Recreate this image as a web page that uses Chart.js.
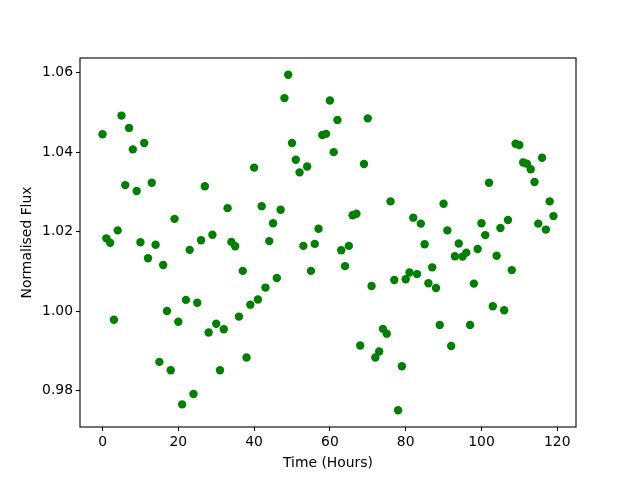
<!DOCTYPE html>
<html>
<head>
<meta charset="utf-8">
<script src="https://cdn.jsdelivr.net/npm/chart.js@4/dist/chart.umd.min.js"></script>
<style>
html,body{margin:0;padding:0;background:#fff;}
#wrap{width:640px;height:480px;position:relative;}
</style>
</head>
<body>
<div id="wrap"><canvas id="c" width="640" height="480"></canvas></div>
<script>
const hours = [0,1,2,3,4,5,6,7,8,9,10,11,12,13,14,15,16,17,18,19,
20,21,22,23,24,25,26,27,28,29,30,31,32,33,34,35,36,37,38,39,
40,41,42,43,44,45,46,47,48,49,50,51,52,53,54,55,56,57,58,59,
60,61,62,63,64,65,66,67,68,69,70,71,72,73,74,75,76,77,78,79,
80,81,82,83,84,85,86,87,88,89,90,91,92,93,94,95,96,97,98,99,
100,101,102,103,104,105,106,107,108,109,110,111,112,113,114,115,116,117,118,119];

const flux = [
1.0445,1.0183,1.0172,0.9978,1.0203,1.0492,1.0317,1.0461,1.0407,1.0302,
1.0173,1.0423,1.0133,1.0323,1.0167,0.9872,1.0116,1.0000,0.9851,1.0232,
0.9973,0.9765,1.0028,1.0154,0.9791,1.0021,1.0178,1.0314,0.9946,1.0192,
0.9968,0.9851,0.9954,1.0259,1.0174,1.0163,0.9986,1.0101,0.9883,1.0016,
1.0361,1.0029,1.0264,1.0059,1.0176,1.0221,1.0083,1.0255,1.0536,1.0595,
1.0423,1.0381,1.0349,1.0164,1.0364,1.0101,1.0169,1.0207,1.0443,1.0446,
1.0530,1.0400,1.0481,1.0153,1.0113,1.0164,1.0241,1.0245,0.9913,1.0370,
1.0485,1.0063,0.9883,0.9898,0.9955,0.9943,1.0276,1.0078,0.9750,0.9861,
1.0080,1.0097,1.0235,1.0093,1.0220,1.0168,1.0070,1.0110,1.0058,0.9965,
1.0270,1.0203,0.9912,1.0138,1.0170,1.0137,1.0147,0.9965,1.0069,1.0156,
1.0221,1.0191,1.0323,1.0012,1.0139,1.0209,1.0002,1.0229,1.0103,1.0421,
1.0418,1.0374,1.0371,1.0357,1.0325,1.0220,1.0386,1.0205,1.0276,1.0239];

const xTicks = [0,20,40,60,80,100,120];
const yTicks = [0.98,1.00,1.02,1.04,1.06];
const yTickLabels = ["0.98","1.00","1.02","1.04","1.06"];

const points = hours.map((h,i)=>({x:h,y:flux[i]}));

const FONT = {family:"'DejaVu Sans', sans-serif", size:13.9};

const frame = {
  id:'frame',
  afterDatasetsDraw(chart){
    const {ctx, chartArea:a} = chart;
    ctx.save();
    ctx.strokeStyle='#000';
    ctx.lineWidth=1.1;
    ctx.strokeRect(a.left, a.top, a.right-a.left, a.bottom-a.top);
    ctx.restore();
  }
};

new Chart(document.getElementById('c'), {
  type:'scatter',
  data:{datasets:[{
    data:points,
    backgroundColor:'#008000',
    borderColor:'#008000',
    borderWidth:0,
    pointRadius:4.2,
    pointHoverRadius:4.2
  }]},
  options:{
    responsive:false,
    animation:false,
    events:[],
    layout:{padding:{top:58,right:64,left:0,bottom:0}},
    plugins:{legend:{display:false},tooltip:{enabled:false}},
    scales:{
      x:{
        type:'linear',
        min:-5.95, max:124.95,
        afterBuildTicks(s){ s.ticks = xTicks.map(v=>({value:v})); },
        afterFit(s){ s.height = 53; },
        grid:{display:true, drawOnChartArea:false, drawTicks:true, tickLength:4, tickColor:'#000', tickWidth:1.1},
        border:{display:false},
        ticks:{color:'#000', font:FONT, padding:3, maxRotation:0, callback:(v)=>String(v)},
        title:{display:true, text:'Time (Hours)', color:'#000', font:FONT, padding:{top:0,bottom:8}}
      },
      y:{
        type:'linear',
        min:0.9708, max:1.0637,
        afterBuildTicks(s){ s.ticks = yTicks.map(v=>({value:v})); },
        afterFit(s){ s.width = 80; },
        grid:{display:true, drawOnChartArea:false, drawTicks:true, tickLength:4, tickColor:'#000', tickWidth:1.1},
        border:{display:false},
        ticks:{color:'#000', font:FONT, padding:3, callback:(v)=>{const i=yTicks.findIndex(t=>Math.abs(t-v)<1e-9); return i>=0?yTickLabels[i]:'';}},
        title:{display:true, text:'Normalised Flux', color:'#000', font:FONT, padding:{top:19,bottom:0}}
      }
    }
  },
  plugins:[frame]
});
</script>
</body>
</html>
